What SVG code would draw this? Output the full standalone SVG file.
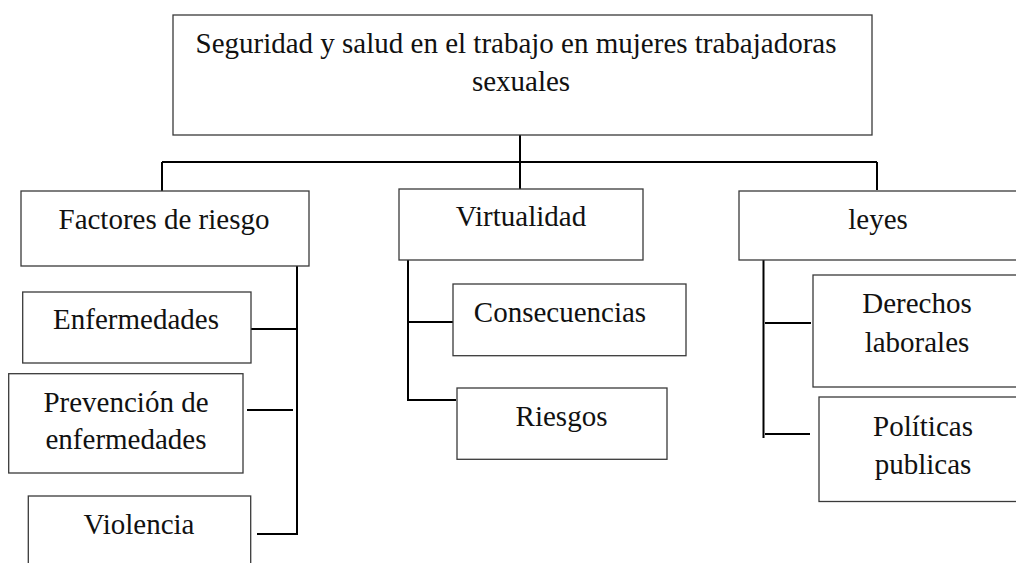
<svg xmlns="http://www.w3.org/2000/svg" width="1016" height="563" viewBox="0 0 1016 563">
<style>
.box{fill:#fff;stroke:#3a3a3a;stroke-width:1.3}
.t{font-family:'Liberation Serif','DejaVu Serif',serif;font-size:29px;fill:#111;text-anchor:middle}
.c{stroke:#000;stroke-width:2;fill:none}
</style>
<rect width="1016" height="563" fill="#fff"/>
<g id="connectors">
<line class="c" x1="520" y1="135" x2="520" y2="189"/>
<line class="c" x1="162" y1="162" x2="877" y2="162"/>
<line class="c" x1="162" y1="162" x2="162" y2="191"/>
<line class="c" x1="877" y1="162" x2="877" y2="190"/>
<line class="c" x1="297" y1="266" x2="297" y2="535"/>
<line class="c" x1="251" y1="329" x2="297" y2="329"/>
<line class="c" x1="247" y1="410" x2="293" y2="410"/>
<line class="c" x1="257" y1="534" x2="298" y2="534"/>
<line class="c" x1="408" y1="260" x2="408" y2="401"/>
<line class="c" x1="408" y1="322" x2="454" y2="322"/>
<line class="c" x1="408" y1="400" x2="456" y2="400"/>
<line class="c" x1="763.5" y1="259" x2="763.5" y2="438"/>
<line class="c" x1="765" y1="323" x2="811" y2="323"/>
<line class="c" x1="765" y1="434" x2="810" y2="434"/>
</g>
<g id="root">
<rect class="box" x="173" y="15" width="699" height="120"/>
<text class="t" x="516" y="53" font-family="Liberation Serif, DejaVu Serif, serif">Seguridad y salud en el trabajo en mujeres trabajadoras</text>
<text class="t" x="521" y="91" font-family="Liberation Serif, DejaVu Serif, serif">sexuales</text>
</g>
<g id="factores">
<rect class="box" x="21" y="191" width="288" height="75"/>
<text class="t" x="164" y="229" font-family="Liberation Serif, DejaVu Serif, serif">Factores de riesgo</text>
</g>
<g id="virtualidad">
<rect class="box" x="399" y="189" width="244" height="71"/>
<text class="t" x="521" y="226" font-family="Liberation Serif, DejaVu Serif, serif">Virtualidad</text>
</g>
<g id="leyes">
<rect class="box" x="739" y="191" width="281" height="69"/>
<text class="t" x="878" y="229" font-family="Liberation Serif, DejaVu Serif, serif">leyes</text>
</g>
<g id="enfermedades">
<rect class="box" x="22.7" y="292" width="228.3" height="71"/>
<text class="t" x="136" y="329" font-family="Liberation Serif, DejaVu Serif, serif">Enfermedades</text>
</g>
<g id="prevencion">
<rect class="box" x="8.7" y="373.7" width="234.3" height="99.3"/>
<text class="t" x="126" y="412" font-family="Liberation Serif, DejaVu Serif, serif">Prevención de</text>
<text class="t" x="126" y="449" font-family="Liberation Serif, DejaVu Serif, serif">enfermedades</text>
</g>
<g id="violencia">
<rect class="box" x="28.3" y="496" width="222.4" height="80"/>
<text class="t" x="139" y="534" font-family="Liberation Serif, DejaVu Serif, serif">Violencia</text>
</g>
<g id="consecuencias">
<rect class="box" x="453" y="284" width="233" height="71.7"/>
<text class="t" x="560" y="322" font-family="Liberation Serif, DejaVu Serif, serif">Consecuencias</text>
</g>
<g id="riesgos">
<rect class="box" x="457" y="388" width="210" height="71.3"/>
<text class="t" x="561.5" y="426" font-family="Liberation Serif, DejaVu Serif, serif">Riesgos</text>
</g>
<g id="derechos">
<rect class="box" x="813" y="275" width="210" height="112"/>
<text class="t" x="917" y="313" font-family="Liberation Serif, DejaVu Serif, serif">Derechos</text>
<text class="t" x="917" y="352" font-family="Liberation Serif, DejaVu Serif, serif">laborales</text>
</g>
<g id="politicas">
<rect class="box" x="819" y="397" width="210" height="104.5"/>
<text class="t" x="923" y="436" font-family="Liberation Serif, DejaVu Serif, serif">Políticas</text>
<text class="t" x="923" y="474" font-family="Liberation Serif, DejaVu Serif, serif">publicas</text>
</g>
</svg>
